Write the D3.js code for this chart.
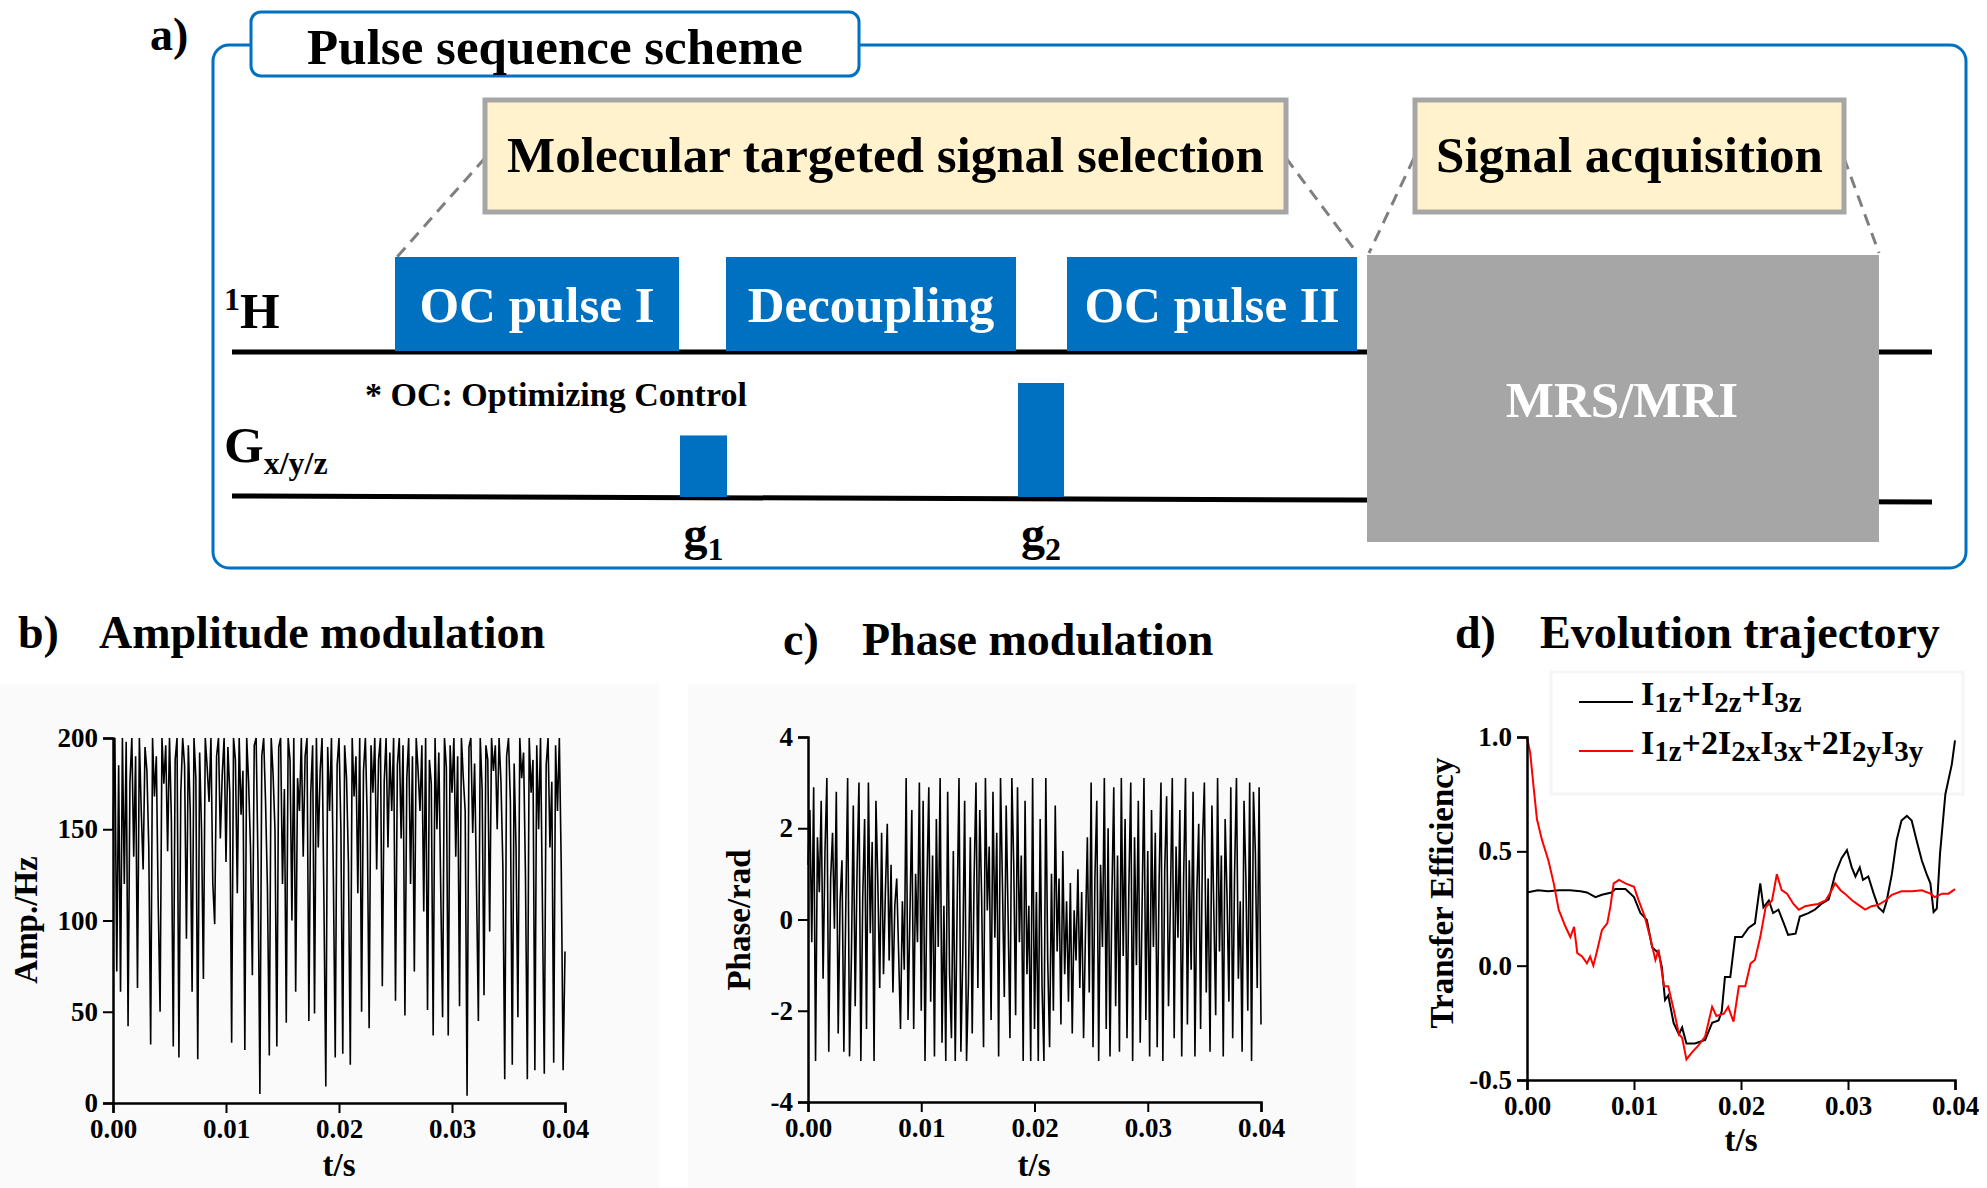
<!DOCTYPE html>
<html><head><meta charset="utf-8">
<script src="https://cdn.jsdelivr.net/npm/d3@7"></script>
<style>
body{margin:0;background:#fff}
svg{display:block}
text{font-family:"Liberation Serif","Times New Roman",serif;font-weight:bold}
</style>
</head><body>
<svg id="fig" width="1987" height="1188"></svg>
<script>
// ---------- data ----------
const timeTicks = [0, 0.01, 0.02, 0.03, 0.04];
const ampTicks = [0, 50, 100, 150, 200];
const phaseTicks = [-4, -2, 0, 2, 4];
const effTicks = [-0.5, 0.0, 0.5, 1.0];

const pulseLabels = ["OC pulse I", "Decoupling", "OC pulse II"];
const gradientLabels = ["g1", "g2"];
const gradientAmps = [0.54, 1.0];

// amplitude modulation (Hz), 241 samples over 0–0.04 s
const amplitude = [
150,200,72,185,61,200,120,198,42,176,
200,135,190,63,200,160,128,195,182,140,
32,200,168,190,110,50,200,175,196,138,
200,155,31,188,200,25,170,200,185,90,
196,160,61,200,178,24,192,150,68,200,
184,165,200,120,98,190,200,145,180,200,
132,195,170,33,200,188,115,200,158,182,
29,200,176,140,70,196,200,130,5,190,
200,165,118,26,200,180,150,31,195,200,
120,172,44,200,188,100,200,61,178,160,
200,135,190,200,45,170,196,49,200,140,
182,200,110,9,195,160,200,125,25,185,
200,150,27,196,178,132,21,200,168,190,
115,200,50,182,200,155,41,196,170,200,
128,188,200,64,176,200,140,192,160,200,
56,185,200,145,196,48,178,200,120,190,
72,200,182,160,196,105,200,51,188,175,
37,200,150,192,118,47,200,184,37,196,
170,200,135,190,53,200,178,160,4,195,
200,148,186,120,45,200,172,59,196,188,
94,200,182,196,150,200,176,130,13,190,
200,165,21,186,140,47,200,178,192,125,
13,200,170,188,18,196,150,200,110,16,
185,200,140,176,22,196,160,200,130,18,
83];

// phase modulation (rad), 241 samples over 0–0.04 s
const phase = [
1.2,2.4,-0.5,2.9,-3.1,1.8,0.6,2.6,-1.3,1.5,
3.1,-2.9,0.9,1.9,-0.2,2.8,-2.5,0.4,1.3,-2.9,
0.2,3.1,-3.0,-0.8,2.5,-1.9,1.1,3.0,-3.1,0.5,
2.2,-2.4,3.0,-0.3,1.7,-3.1,2.6,0.8,-1.5,1.9,
-1.2,0.6,2.1,-0.9,1.2,-1.6,0.3,0.9,-0.7,-2.4,
0.4,-1.1,3.1,-2.2,0.1,2.4,-2.4,1.0,-0.5,3.0,
-2.0,2.6,-3.1,0.7,2.9,-1.8,1.4,-3.0,2.2,-0.6,
3.1,-2.7,0.3,-3.1,2.8,-1.2,-2.6,1.5,-3.1,0.2,
3.1,-2.9,-0.8,2.6,-3.1,-1.4,1.8,-2.5,0.9,3.0,
-1.5,2.4,0.5,-2.8,3.1,0.2,1.6,-2.2,2.8,-0.4,
1.9,-3.0,3.1,0.8,-1.7,2.5,0.1,-2.6,3.1,1.2,
-2.1,2.9,-0.5,1.4,-3.1,2.6,-1.2,0.3,-3.1,3.1,
-2.4,0.6,-3.1,2.2,-1.5,-3.1,3.1,-0.9,-2.8,1.0,
-2.0,2.5,-0.7,0.9,-2.3,1.5,-1.2,0.4,-1.8,0.8,
-2.5,0.2,-0.9,1.1,-1.5,0.6,-2.6,-0.3,1.8,-1.6,
3.0,-2.8,0.9,2.6,-3.1,1.2,-0.6,3.1,-2.4,2.0,
-3.0,0.5,2.9,-1.9,1.4,-2.9,3.1,-0.8,2.2,-2.6,
0.7,3.0,-3.1,1.8,-1.0,2.6,-2.7,0.3,3.1,-2.2,
1.5,-3.0,2.4,-0.6,1.9,-2.8,0.8,3.0,-3.1,1.1,
2.7,-1.9,0.4,3.1,-2.6,1.6,-0.4,2.4,-3.0,0.9,
3.1,-2.3,1.3,-1.1,2.8,-3.0,0.6,2.1,-2.4,1.7,
3.0,-1.6,0.9,-2.9,2.5,0.2,-2.1,3.1,-0.7,1.4,
-3.0,2.2,0.5,-1.8,2.9,-2.6,1.0,3.1,-1.3,0.4,
-2.9,2.6,0.9,-2.0,3.0,-3.1,2.8,1.5,-1.5,2.9,
-2.3];

// evolution trajectory: time in ms, transfer efficiency
const blackT = [0,1,2,3,4,5,5.6,6.4,7.0,7.9,8.25,9.2,10.0,10.6,11.2,11.7,12.3,12.6,12.9,13.2,13.7,14.2,14.5,14.9,15.7,16.65,17.3,17.9,18.2,18.5,19.0,19.45,20.1,20.7,21.3,21.8,22.1,22.6,23.0,23.5,24.0,24.4,25.1,25.5,26.3,26.9,27.5,28.2,28.8,29.4,29.9,30.35,30.7,31.1,31.4,31.9,32.4,32.85,33.3,33.6,34.1,34.55,35.0,35.5,35.95,36.4,36.9,37.35,37.7,38.0,38.3,38.6,39.1,39.7,40.0];
const blackV = [0.32,0.33,0.325,0.33,0.33,0.325,0.32,0.30,0.31,0.32,0.335,0.335,0.30,0.23,0.20,0.08,0.055,-0.005,-0.15,-0.13,-0.25,-0.30,-0.27,-0.34,-0.34,-0.325,-0.25,-0.24,-0.20,-0.05,-0.05,0.125,0.125,0.165,0.185,0.36,0.255,0.285,0.23,0.245,0.185,0.135,0.14,0.215,0.23,0.245,0.27,0.29,0.40,0.47,0.505,0.43,0.39,0.43,0.375,0.39,0.315,0.255,0.235,0.28,0.40,0.55,0.635,0.655,0.635,0.55,0.46,0.40,0.36,0.235,0.25,0.49,0.75,0.88,0.985];
const redT = [0,0.3,0.62,0.93,1.4,2.0,2.5,2.96,3.6,4.05,4.4,4.7,5.15,5.6,5.9,6.2,6.5,7.0,7.5,7.8,8.1,8.6,9.2,10.0,10.4,11.0,11.5,12.0,12.3,12.8,13.2,13.7,14.2,14.5,14.9,15.4,16.0,16.65,17.3,17.7,18.4,18.8,19.3,19.8,20.4,20.9,21.3,21.8,22.3,22.9,23.35,23.8,24.3,24.9,25.4,26.0,26.6,27.2,27.9,28.3,28.8,29.3,29.7,30.4,31.0,31.6,32.2,32.8,33.5,34.1,35.0,36.0,36.9,37.7,38.1,38.8,39.4,40.0];
const redV = [1.0,0.93,0.78,0.64,0.55,0.46,0.36,0.245,0.17,0.125,0.17,0.055,0.04,0.01,0.04,0.0,0.055,0.155,0.185,0.26,0.36,0.375,0.36,0.345,0.29,0.215,0.125,0.025,0.07,-0.09,-0.09,-0.19,-0.30,-0.315,-0.41,-0.38,-0.35,-0.31,-0.18,-0.22,-0.21,-0.18,-0.245,-0.09,-0.09,0.01,0.025,0.125,0.255,0.285,0.40,0.33,0.315,0.27,0.245,0.26,0.265,0.27,0.285,0.315,0.36,0.33,0.315,0.285,0.265,0.245,0.26,0.265,0.285,0.31,0.325,0.325,0.33,0.315,0.30,0.315,0.315,0.335];

// ---------- drawing ----------
const svg = d3.select("#fig");
const BLUE = "#0070c0";
const F = 51;

// ===== panel a =====
const A = svg.append("g");
A.append("text").attr("x", 150).attr("y", 50).attr("font-size", 46).text("a)");
A.append("rect").attr("x", 213).attr("y", 45).attr("width", 1753).attr("height", 523)
  .attr("rx", 16).attr("fill", "none").attr("stroke", BLUE).attr("stroke-width", 3);
A.append("rect").attr("x", 251).attr("y", 12).attr("width", 608).attr("height", 64)
  .attr("rx", 10).attr("fill", "#fff").attr("stroke", BLUE).attr("stroke-width", 3);
A.append("text").attr("x", 555).attr("y", 64).attr("text-anchor", "middle").attr("font-size", F).text("Pulse sequence scheme");

// dashed connectors
const dash = [[485,158,397,257],[1286,158,1357,253],[1414,158,1369,253],[1844,158,1879,253]];
dash.forEach(d => A.append("line").attr("x1", d[0]).attr("y1", d[1]).attr("x2", d[2]).attr("y2", d[3])
  .attr("stroke", "#7f7f7f").attr("stroke-width", 3).attr("stroke-dasharray", "12,8"));

// yellow boxes
[[485,100,801,112,"Molecular targeted signal selection"],[1415,100,429,112,"Signal acquisition"]].forEach(b => {
  A.append("rect").attr("x", b[0]).attr("y", b[1]).attr("width", b[2]).attr("height", b[3])
    .attr("fill", "#fff2cc").attr("stroke", "#a6a6a6").attr("stroke-width", 5);
  A.append("text").attr("x", b[0] + b[2] / 2).attr("y", b[1] + 72).attr("text-anchor", "middle")
    .attr("font-size", F).text(b[4]);
});

// baselines
A.append("line").attr("x1", 232).attr("y1", 352).attr("x2", 1932).attr("y2", 352).attr("stroke", "#000").attr("stroke-width", 5);
A.append("line").attr("x1", 232).attr("y1", 496).attr("x2", 1932).attr("y2", 502).attr("stroke", "#000").attr("stroke-width", 5);

// RF pulse blocks
const pulseX = d3.scaleOrdinal().domain(pulseLabels).range([[395,679],[726,1016],[1067,1357]]);
pulseLabels.forEach(p => {
  const [x0, x1] = pulseX(p);
  A.append("rect").attr("x", x0).attr("y", 257).attr("width", x1 - x0).attr("height", 94).attr("fill", BLUE);
  A.append("text").attr("x", (x0 + x1) / 2).attr("y", 322).attr("text-anchor", "middle")
    .attr("fill", "#fff").attr("font-size", F).text(p);
});

// gradient pulses
const gY = d3.scaleLinear().domain([0, 1]).range([497, 383]);
const gX = [[680,727],[1018,1064]];
gradientAmps.forEach((a, i) => {
  A.append("rect").attr("x", gX[i][0]).attr("y", gY(a)).attr("width", gX[i][1] - gX[i][0])
    .attr("height", gY(0) - gY(a)).attr("fill", BLUE);
  const t = A.append("text").attr("x", (gX[i][0] + gX[i][1]) / 2).attr("y", 550)
    .attr("text-anchor", "middle").attr("font-size", 48);
  t.append("tspan").text(gradientLabels[i][0]);
  t.append("tspan").attr("font-size", 32).attr("dy", 10).text(gradientLabels[i].slice(1));
});

// acquisition box
A.append("rect").attr("x", 1367).attr("y", 255).attr("width", 512).attr("height", 287).attr("fill", "#a6a6a6");
A.append("text").attr("x", 1622).attr("y", 417).attr("text-anchor", "middle").attr("fill", "#fff")
  .attr("font-size", F).text("MRS/MRI");

// channel labels
const h = A.append("text").attr("x", 224).attr("y", 328).attr("font-size", F);
h.append("tspan").attr("font-size", 32).attr("dy", -18).text("1");
h.append("tspan").attr("dy", 18).text("H");
const gl = A.append("text").attr("x", 224).attr("y", 462).attr("font-size", F);
gl.append("tspan").text("G");
gl.append("tspan").attr("font-size", 32).attr("dy", 12).text("x/y/z");
A.append("text").attr("x", 365).attr("y", 406).attr("font-size", 34).text("* OC: Optimizing Control");

// ===== helper for plots =====
function axes(g, x, y, xt, yt, xMinor, yMinor, xf, yf) {
  const gx = g.append("g").attr("transform", `translate(0,${y.range()[0]})`);
  gx.call(d3.axisBottom(x).tickValues(xMinor).tickSize(6).tickFormat(""));
  gx.call(d3.axisBottom(x).tickValues(xt).tickSize(10).tickPadding(6).tickFormat(xf));
  const gy = g.append("g").attr("transform", `translate(${x.range()[0]},0)`);
  gy.call(d3.axisLeft(y).tickValues(yMinor).tickSize(6).tickFormat(""));
  gy.call(d3.axisLeft(y).tickValues(yt).tickSize(10).tickPadding(5).tickFormat(yf));
  g.selectAll(".domain").attr("stroke", "#000").attr("stroke-width", 2.5);
  g.selectAll(".tick line").attr("stroke", "#000").attr("stroke-width", 2);
  g.selectAll(".tick text").attr("font-family", "Liberation Serif, serif").attr("font-weight", "bold")
    .attr("font-size", 27).attr("fill", "#000");
}
const fmt2 = d => d.toFixed(2);
const minorT = d3.range(0, 0.04001, 0.002);

// background tints
svg.append("rect").attr("x", 0).attr("y", 684).attr("width", 659).attr("height", 504).attr("fill", "#fafafa");
svg.append("rect").attr("x", 688).attr("y", 684).attr("width", 668).attr("height", 504).attr("fill", "#fafafa");

// ===== panel b =====
const B = svg.append("g");
B.append("text").attr("x", 18).attr("y", 648).attr("font-size", 46).text("b)");
B.append("text").attr("x", 99).attr("y", 648).attr("font-size", 46).text("Amplitude modulation");
const xb = d3.scaleLinear().domain([0, 0.04]).range([113, 565]);
const yb = d3.scaleLinear().domain([0, 200]).range([1103, 738]);
B.append("path").datum(amplitude)
  .attr("d", d3.line().x((d, i) => xb(i / (amplitude.length - 1) * 0.04)).y(d => yb(d)))
  .attr("fill", "none").attr("stroke", "#000").attr("stroke-width", 1.6);
axes(B, xb, yb, timeTicks, ampTicks, minorT, d3.range(0, 201, 10), fmt2, d => d);
B.append("text").attr("x", 339).attr("y", 1176).attr("text-anchor", "middle").attr("font-size", 33).text("t/s");
B.append("text").attr("transform", "translate(37,920) rotate(-90)").attr("text-anchor", "middle").attr("font-size", 33).text("Amp./Hz");

// ===== panel c =====
const C = svg.append("g");
C.append("text").attr("x", 783).attr("y", 655).attr("font-size", 46).text("c)");
C.append("text").attr("x", 862).attr("y", 655).attr("font-size", 46).text("Phase modulation");
const xc = d3.scaleLinear().domain([0, 0.04]).range([808, 1261]);
const yc = d3.scaleLinear().domain([-4, 4]).range([1102, 737]);
C.append("path").datum(phase)
  .attr("d", d3.line().x((d, i) => xc(i / (phase.length - 1) * 0.04)).y(d => yc(d)))
  .attr("fill", "none").attr("stroke", "#000").attr("stroke-width", 1.6);
axes(C, xc, yc, timeTicks, phaseTicks, minorT, d3.range(-4, 4.001, 0.4), fmt2, d => d);
C.append("text").attr("x", 1034).attr("y", 1176).attr("text-anchor", "middle").attr("font-size", 33).text("t/s");
C.append("text").attr("transform", "translate(750,920) rotate(-90)").attr("text-anchor", "middle").attr("font-size", 33).text("Phase/rad");

// ===== panel d =====
const D = svg.append("g");
D.append("text").attr("x", 1455).attr("y", 648).attr("font-size", 46).text("d)");
D.append("text").attr("x", 1540).attr("y", 648).attr("font-size", 46).text("Evolution trajectory");
// very faint legend frame
D.append("rect").attr("x", 1551).attr("y", 672).attr("width", 412).attr("height", 122)
  .attr("fill", "none").attr("stroke", "#f5f5f5").attr("stroke-width", 3);
const xd = d3.scaleLinear().domain([0, 0.04]).range([1527, 1955]);
const yd = d3.scaleLinear().domain([-0.5, 1.0]).range([1080, 737]);
const lineD = (T, V) => d3.line().x((d, i) => xd(T[i] / 1000)).y(d => yd(d))(V);
D.append("path").attr("d", lineD(blackT, blackV)).attr("fill", "none").attr("stroke", "#000").attr("stroke-width", 2);
D.append("path").attr("d", lineD(redT, redV)).attr("fill", "none").attr("stroke", "#ff0000").attr("stroke-width", 2);
axes(D, xd, yd, timeTicks, effTicks, minorT, d3.range(-0.5, 1.0001, 0.1), fmt2, d => d.toFixed(1));
D.append("text").attr("x", 1741).attr("y", 1151).attr("text-anchor", "middle").attr("font-size", 33).text("t/s");
D.append("text").attr("transform", "translate(1453,893) rotate(-90)").attr("text-anchor", "middle").attr("font-size", 33).text("Transfer Efficiency");

// legend
const legend = [
  {color: "#000", parts: [["I",""],["1z","s"],["+I",""],["2z","s"],["+I",""],["3z","s"]]},
  {color: "#ff0000", parts: [["I",""],["1z","s"],["+2I",""],["2x","s"],["I",""],["3x","s"],["+2I",""],["2y","s"],["I",""],["3y","s"]]}
];
legend.forEach((l, i) => {
  const ly = 702 + i * 49;
  D.append("line").attr("x1", 1579).attr("x2", 1633).attr("y1", ly).attr("y2", ly).attr("stroke", l.color).attr("stroke-width", 2);
  const t = D.append("text").attr("x", 1641).attr("y", ly + 10).attr("font-size", 34);
  l.parts.forEach(p => {
    if (p[1] === "s") t.append("tspan").attr("font-size", 29).attr("dy", 7).text(p[0]);
    else t.append("tspan").attr("dy", t.selectAll("tspan").size() ? -7 : 0).text(p[0]);
  });
});
</script>
</body></html>
